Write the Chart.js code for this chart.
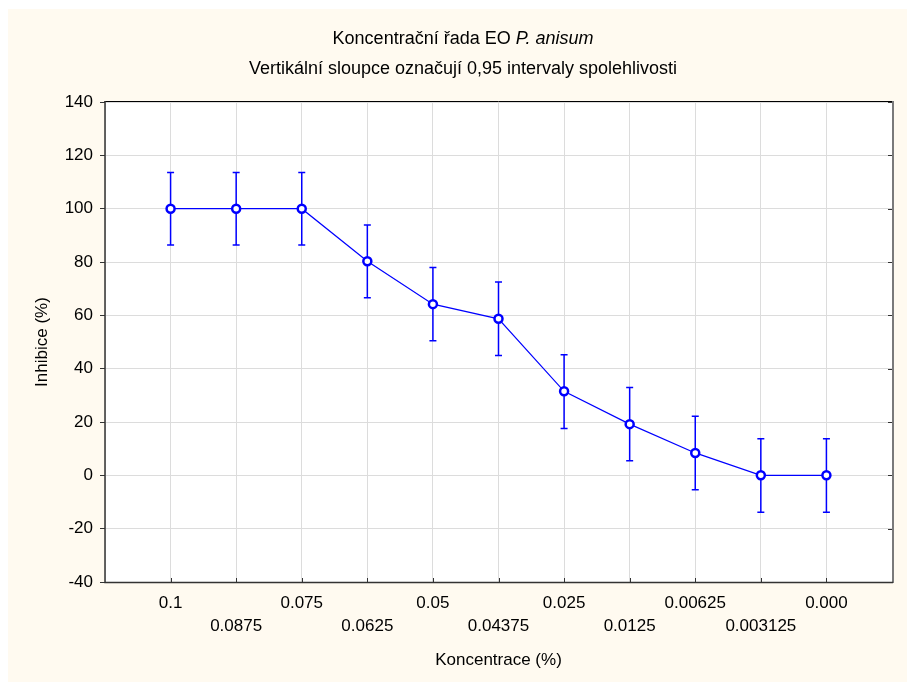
<!DOCTYPE html>
<html>
<head>
<meta charset="utf-8">
<title>Koncentrační řada EO P. anisum</title>
<script src="https://cdn.jsdelivr.net/npm/chart.js@4.4.0/dist/chart.umd.min.js"></script>
<style>
  html, body { margin: 0; padding: 0; background: #fff; }
  #c { display: block; }
</style>
</head>
<body>
<canvas id="c" width="907" height="682"></canvas>
<script>
// --- DATA ---
const concLabels = ['0.1', '0.0875', '0.075', '0.0625', '0.05', '0.04375', '0.025', '0.0125', '0.00625', '0.003125', '0.000'];
const inhibition = [100, 100, 100, 80.3, 64.2, 58.7, 31.5, 19.2, 8.4, 0, 0];
const ciLow      = [86.4, 86.4, 86.4, 66.6, 50.5, 44.9, 17.6, 5.5, -5.4, -13.8, -13.8];
const ciHigh     = [113.6, 113.6, 113.6, 93.9, 77.9, 72.5, 45.2, 32.9, 22.2, 13.7, 13.7];
const yMin = -40, yMax = 140, yStep = 20;

const titleMain   = 'Koncentrační řada EO ';
const titleItalic = 'P. anisum';
const subTitle    = 'Vertikální sloupce označují 0,95 intervaly spolehlivosti';
const xTitle      = 'Koncentrace (%)';
const yTitle      = 'Inhibice (%)';

const FONT = '"Liberation Sans", Arial, sans-serif';
const BLUE = '#0000ff';

const points = inhibition.map((v, i) => ({ x: i, y: v }));

// background, frame, error bars and titles
const statPlugin = {
  id: 'statPlugin',
  beforeDraw(chart) {
    const { ctx, chartArea: a } = chart;
    ctx.save();
    ctx.fillStyle = '#fffaf0';
    ctx.fillRect(8, 9, chart.width - 8, chart.height - 9);
    ctx.fillStyle = '#ffffff';
    ctx.fillRect(a.left, a.top, a.right - a.left, a.bottom - a.top);
    ctx.restore();
  },
  beforeDatasetsDraw(chart) {
    const { ctx, chartArea: a, scales: { x, y } } = chart;
    ctx.save();
    // frame
    ctx.lineWidth = 1;
    ctx.strokeStyle = '#000';
    ctx.beginPath();
    ctx.moveTo(a.left - 0.5, a.top - 0.5); ctx.lineTo(a.right + 0.5, a.top - 0.5);
    ctx.stroke();
    ctx.strokeStyle = '#7a7a7a';
    ctx.lineWidth = 2;
    ctx.beginPath();
    ctx.moveTo(a.right + 1, a.top - 1); ctx.lineTo(a.right + 1, a.bottom + 1);
    ctx.stroke();
    ctx.strokeStyle = '#333';
    ctx.lineWidth = 1.5;
    ctx.beginPath();
    ctx.moveTo(a.left, a.top - 1); ctx.lineTo(a.left, a.bottom + 0.5);
    ctx.lineTo(a.right + 1, a.bottom + 0.5);
    ctx.stroke();
    // inner ticks
    ctx.lineWidth = 1;
    ctx.strokeStyle = '#333';
    ctx.beginPath();
    concLabels.forEach((_, i) => {
      const px = Math.round(x.getPixelForValue(i)) + 0.5;
      ctx.moveTo(px, a.bottom); ctx.lineTo(px, a.bottom - 4);
    });
    for (let v = yMin; v <= yMax; v += yStep) {
      const py = Math.round(y.getPixelForValue(v)) + 0.5;
      ctx.moveTo(a.right, py); ctx.lineTo(a.right - 4, py);
    }
    ctx.stroke();
    // error bars
    ctx.strokeStyle = BLUE;
    ctx.lineWidth = 1.5;
    ctx.beginPath();
    ciLow.forEach((lo, i) => {
      const px = x.getPixelForValue(i);
      const pLo = y.getPixelForValue(lo);
      const pHi = y.getPixelForValue(ciHigh[i]);
      ctx.moveTo(px, pLo); ctx.lineTo(px, pHi);
      ctx.moveTo(px - 3.5, pLo); ctx.lineTo(px + 3.5, pLo);
      ctx.moveTo(px - 3.5, pHi); ctx.lineTo(px + 3.5, pHi);
    });
    ctx.stroke();
    ctx.restore();
  },
  afterDraw(chart) {
    const { ctx } = chart;
    const cx = 463;
    ctx.save();
    ctx.fillStyle = '#000';
    ctx.textBaseline = 'middle';
    ctx.textAlign = 'left';
    ctx.font = '18px ' + FONT;
    const w1 = ctx.measureText(titleMain).width;
    ctx.font = 'italic 18px ' + FONT;
    const w2 = ctx.measureText(titleItalic).width;
    let sx = cx - (w1 + w2) / 2;
    ctx.font = '18px ' + FONT;
    ctx.fillText(titleMain, sx, 39);
    ctx.font = 'italic 18px ' + FONT;
    ctx.fillText(titleItalic, sx + w1, 39);
    ctx.font = '18px ' + FONT;
    ctx.textAlign = 'center';
    ctx.fillText(subTitle, cx, 69);
    ctx.restore();
  }
};

new Chart(document.getElementById('c'), {
  type: 'line',
  data: {
    datasets: [{
      data: points,
      borderColor: BLUE,
      borderWidth: 1.2,
      pointRadius: 4,
      pointBorderWidth: 2.5,
      pointBorderColor: BLUE,
      pointBackgroundColor: '#ffffff',
      tension: 0
    }]
  },
  options: {
    responsive: false,
    animation: false,
    devicePixelRatio: 1,
    layout: { padding: { top: 102, right: 15, left: 0, bottom: 0 } },
    plugins: { legend: { display: false }, tooltip: { enabled: false }, title: { display: false } },
    scales: {
      x: {
        type: 'linear',
        min: -1,
        max: 11,
        afterFit: s => { s.height = 100; },
        grid: { color: '#dcdcdc', drawTicks: false },
        border: { display: false },
        ticks: {
          stepSize: 1,
          autoSkip: false,
          maxRotation: 0,
          minRotation: 0,
          padding: 9,
          color: '#000',
          font: { family: FONT, size: 17, lineHeight: 1.4 },
          callback: v => {
            const i = Math.round(v);
            if (i < 0 || i >= concLabels.length) return '';
            return i % 2 === 0 ? [concLabels[i], ''] : ['', concLabels[i]];
          }
        },
        title: {
          display: true,
          text: xTitle,
          color: '#000',
          font: { family: FONT, size: 17 },
          padding: { top: 0, bottom: 11 }
        }
      },
      y: {
        min: yMin,
        max: yMax,
        afterFit: s => { s.width = 105; },
        grid: { color: '#dcdcdc', tickLength: 5, tickColor: '#333' },
        border: { display: false },
        ticks: {
          stepSize: yStep,
          padding: 7,
          color: '#000',
          font: { family: FONT, size: 17 }
        },
        title: {
          display: true,
          text: yTitle,
          color: '#000',
          font: { family: FONT, size: 17 },
          padding: { top: 32, bottom: 0 }
        }
      }
    }
  },
  plugins: [statPlugin]
});
</script>
</body>
</html>
